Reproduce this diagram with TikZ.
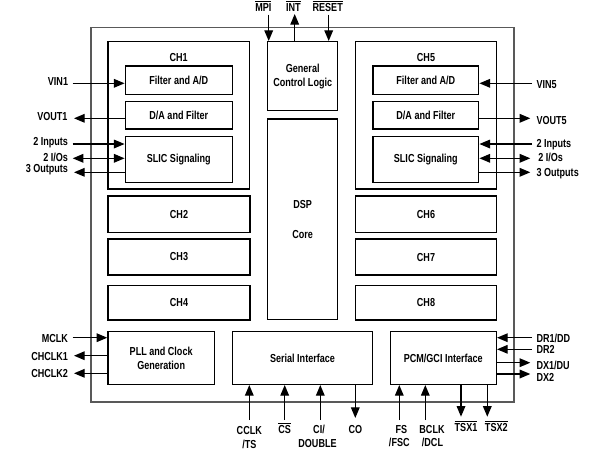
\documentclass[tikz,border=0pt]{standalone}
\usepackage{fontspec}
\setmainfont{Liberation Sans}[FakeStretch=0.78]
\usetikzlibrary{arrows.meta,fit}
\begin{document}
\begin{tikzpicture}[x=0.75pt,y=-0.75pt,
  font=\fontsize{8.7}{10.5}\selectfont\bfseries,
  box/.style={draw, line width=1.1pt, inner sep=0pt},
  lbl/.style={inner sep=0pt, align=center},
  sig/.style={line width=0.9pt, -{Triangle[length=8pt,width=6.5pt]}},
  sigb/.style={line width=0.9pt, {Triangle[length=8pt,width=6.5pt]}-{Triangle[length=8pt,width=6.5pt]}},
]
\useasboundingbox (0,0) rectangle (614,462);
\newcommand\ovl[1]{$\overline{\mbox{#1}}$}

% outer chip
\node[box, draw=black!65, line width=1.2pt, fit={(90.7,27.3) (513.7,401.7)}] (chip) {};

% channel 1
\node[box, fit={(108,41.7) (249.3,189)}] (ch1) {};
\node[lbl] (ch1t) at (178.7,57) {CH1};
\node[box, fit={(125.3,66) (232.3,94.3)}] (fad1) {};
\node[box, fit={(125.3,101.3) (232.3,129)}] (daf1) {};
\node[box, fit={(125.3,136.3) (232.3,182.7)}] (slic1) {};
\node[lbl] at (fad1) {Filter and A/D};
\node[lbl] at (daf1) {D/A and Filter};
\node[lbl] at (slic1) {SLIC Signaling};

% channel 5
\node[box, fit={(355.7,41.7) (496.3,189)}] (ch5) {};
\node[lbl] (ch5t) at (426,57) {CH5};
\node[box, fit={(373,66) (478.7,94.3)}] (fad5) {};
\node[box, fit={(373,101.3) (478.7,129)}] (daf5) {};
\node[box, fit={(373,136.3) (478.7,182.7)}] (slic5) {};
\node[lbl] at (fad5) {Filter and A/D};
\node[lbl] at (daf5) {D/A and Filter};
\node[lbl] at (slic5) {SLIC Signaling};

% centre
\node[box, fit={(267.7,41.7) (337.7,110.7)}] (gcl) {};
\node[lbl] at (gcl) {General\\Control Logic};
\node[box, fit={(267.7,119) (337.7,319.3)}] (dsp) {};
\node[lbl] (dspt) at (302.7,204) {DSP};
\node[lbl] (coret) at (302.7,234.5) {Core};

% other channels
\node[box, fit={(108,196) (250,232.7)}] (ch2) {};
\node[box, fit={(108,239) (250,275)}] (ch3) {};
\node[box, fit={(108,285.3) (250,320)}] (ch4) {};
\node[box, fit={(355.7,196) (496.3,232.7)}] (ch6) {};
\node[box, fit={(355.7,239) (496.3,275)}] (ch7) {};
\node[box, fit={(355.7,285.3) (496.3,320)}] (ch8) {};
\node[lbl] at (ch2) {CH2};
\node[lbl] at (ch3) {CH3};
\node[lbl] at (ch4) {CH4};
\node[lbl] at (ch6) {CH6};
\node[lbl] at (ch7) {CH7};
\node[lbl] at (ch8) {CH8};

% bottom blocks
\node[box, fit={(108,331.7) (214.3,384.3)}] (pll) {};
\node[box, fit={(232.3,331.7) (372.7,384.3)}] (ser) {};
\node[box, fit={(390.3,331.7) (496.3,384.3)}] (pcm) {};
\node[lbl] at (pll) {PLL and Clock\\Generation};
\node[lbl] at (ser) {Serial Interface};
\node[lbl] at (pcm) {PCM/GCI Interface};

% ---- left side signals
\coordinate (vin1) at (72.7,83.3);
\coordinate (vout1) at (74,118.3);
\coordinate (in1) at (72.7,144);
\coordinate (io1) at (72.7,158.3);
\coordinate (out1) at (74,172.3);
\draw[sig] (vin1) -- (fad1.west |- vin1);
\draw[sig] (daf1.west |- vout1) -- (vout1);
\draw[sig] (in1) -- (slic1.west |- in1);
\draw[sigb] (io1) -- (slic1.west |- io1);
\draw[sig] (slic1.west |- out1) -- (out1);
\node[lbl, anchor=base east] (lvin1) at (68.3,85.3) {VIN1};
\node[lbl, anchor=base east] (lvout1) at (67.7,120.7) {VOUT1};
\node[lbl, anchor=base east] (lin1) at (68.3,145.3) {2 Inputs};
\node[lbl, anchor=base east] (lio1) at (68.3,161) {2 I/Os};
\node[lbl, anchor=base east] (lout1) at (68.3,172.3) {3 Outputs};

% ---- right side signals
\coordinate (vin5) at (532,83.3);
\coordinate (vout5) at (530.3,118.3);
\coordinate (in5) at (532,144);
\coordinate (io5) at (530.3,158.3);
\coordinate (out5) at (530.3,172.3);
\draw[sig] (vin5) -- (fad5.east |- vin5);
\draw[sig] (daf5.east |- vout5) -- (vout5);
\draw[sig] (in5) -- (slic5.east |- in5);
\draw[sigb] (io5) -- (slic5.east |- io5);
\draw[sig] (slic5.east |- out5) -- (out5);
\node[lbl, anchor=base west] (lvin5) at (536.3,88.7) {VIN5};
\node[lbl, anchor=base west] (lvout5) at (536.3,124.3) {VOUT5};
\node[lbl, anchor=base west] (lin5) at (536.3,147.3) {2 Inputs};
\node[lbl, anchor=base west] (lio5) at (538,161.3) {2 I/Os};
\node[lbl, anchor=base west] (lout5) at (536.3,176) {3 Outputs};

% ---- top signals
\coordinate (mpi) at (268.7,14.5);
\coordinate (int) at (294.7,14);
\coordinate (rst) at (328.7,14.5);
\draw[sig] (mpi) -- (gcl.north -| mpi);
\draw[sig] (gcl.north -| int) -- (int);
\draw[sig] (rst) -- (gcl.north -| rst);
\node[lbl, anchor=base] (lmpi) at (263.3,11.3) {\ovl{MPI}};
\node[lbl, anchor=base] (lint) at (293.3,11.3) {\ovl{INT}};
\node[lbl, anchor=base] (lrst) at (327.7,11.5) {\ovl{RESET}};

% ---- clock signals
\coordinate (mclk) at (72.7,337.7);
\coordinate (chclk1) at (74,355.7);
\coordinate (chclk2) at (74,373.3);
\draw[sig] (mclk) -- (pll.west |- mclk);
\draw[sig] (pll.west |- chclk1) -- (chclk1);
\draw[sig] (pll.west |- chclk2) -- (chclk2);
\node[lbl, anchor=base east] (lmclk) at (68.3,342.3) {MCLK};
\node[lbl, anchor=base east] (lchclk1) at (68.3,360) {CHCLK1};
\node[lbl, anchor=base east] (lchclk2) at (68.3,377.3) {CHCLK2};

% ---- PCM right signals
\coordinate (dr1) at (532,337.7);
\coordinate (dr2) at (532,349.3);
\coordinate (dx1) at (530.3,362.7);
\coordinate (dx2) at (530.3,374);
\draw[sig] (dr1) -- (pcm.east |- dr1);
\draw[sig] (dr2) -- (pcm.east |- dr2);
\draw[sig] (pcm.east |- dx1) -- (dx1);
\draw[sig] (pcm.east |- dx2) -- (dx2);
\node[lbl, anchor=base west] (ldr1) at (536.3,342) {DR1/DD};
\node[lbl, anchor=base west] (ldr2) at (536.3,353) {DR2};
\node[lbl, anchor=base west] (ldx1) at (536.3,369.3) {DX1/DU};
\node[lbl, anchor=base west] (ldx2) at (536.3,381) {DX2};

% ---- bottom signals
\coordinate (cclk) at (249.3,420);
\coordinate (cs) at (284.7,420);
\coordinate (ci) at (320.3,420);
\coordinate (co) at (355.3,418);
\coordinate (fs) at (399.3,420);
\coordinate (bclk) at (425.3,420);
\coordinate (tsx1) at (461,416.7);
\coordinate (tsx2) at (487.3,416.7);
\draw[sig] (cclk) -- (ser.south -| cclk);
\draw[sig] (cs) -- (ser.south -| cs);
\draw[sig] (ci) -- (ser.south -| ci);
\draw[sig] (ser.south -| co) -- (co);
\draw[sig] (fs) -- (pcm.south -| fs);
\draw[sig] (bclk) -- (pcm.south -| bclk);
\draw[sig] (pcm.south -| tsx1) -- (tsx1);
\draw[sig] (pcm.south -| tsx2) -- (tsx2);
\node[lbl, anchor=base] (lcclk) at (249.3,434) {CCLK};
\node[lbl, anchor=base] (lts) at (249.3,448.3) {/TS};
\node[lbl, anchor=base] (lcs) at (284.7,433.3) {\ovl{CS}};
\node[lbl, anchor=base] (lci) at (319,433.3) {CI/};
\node[lbl, anchor=base] (ldouble) at (317.5,447.3) {DOUBLE};
\node[lbl, anchor=base] (lco) at (355.3,433.3) {CO};
\node[lbl, anchor=base] (lfs) at (401.3,433) {FS};
\node[lbl, anchor=base] (lfsc) at (399.3,446) {/FSC};
\node[lbl, anchor=base] (lbclk) at (432,433) {BCLK};
\node[lbl, anchor=base] (ldcl) at (432.5,446) {/DCL};
\node[lbl, anchor=base] (ltsx1) at (466,431.7) {\ovl{TSX1}};
\node[lbl, anchor=base] (ltsx2) at (496.3,431.7) {\ovl{TSX2}};
\end{tikzpicture}
\end{document}
